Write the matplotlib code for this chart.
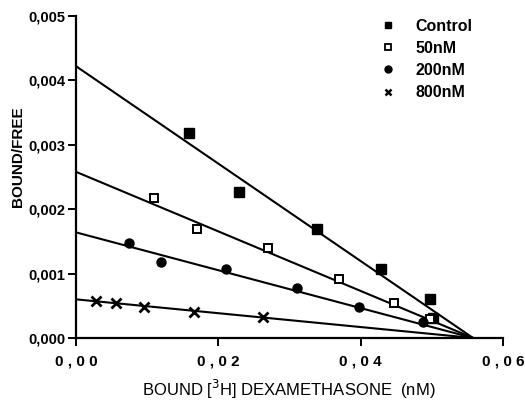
import numpy as np
import matplotlib
matplotlib.use("Agg")
import matplotlib.pyplot as plt
from matplotlib.lines import Line2D

# Scatchard plot data
labels = ["Control", "50nM", "200nM", "800nM"]

control_x = [0.0159, 0.0229, 0.0339, 0.0429, 0.0497, 0.0502]
control_y = [0.00319, 0.00226, 0.00169, 0.00107, 0.00060, 0.00031]

nm50_x = [0.0109, 0.0170, 0.0270, 0.0370, 0.0447, 0.0497]
nm50_y = [0.00217, 0.00169, 0.00140, 0.00092, 0.00054, 0.00030]

nm200_x = [0.0075, 0.0120, 0.0211, 0.0310, 0.0398, 0.0487]
nm200_y = [0.00147, 0.00118, 0.00107, 0.00078, 0.00048, 0.00025]

nm800_x = [0.0028, 0.0056, 0.0096, 0.0166, 0.0263]
nm800_y = [0.00057, 0.00054, 0.00048, 0.00040, 0.00032]

# fitted lines: y-intercepts and common x-intercept (Bmax)
fit_intercepts = [0.00422, 0.00258, 0.00164, 0.00060]
fit_bmax = 0.0558

xticks = [0.0, 0.02, 0.04, 0.06]
xticklabels = ["0 , 0 0", "0 , 0 2", "0 , 0 4", "0 , 0 6"]
yticks = [0.0, 0.001, 0.002, 0.003, 0.004, 0.005]
yticklabels = ["0,000", "0,001", "0,002", "0,003", "0,004", "0,005"]

bold = ["Liberation Sans", "DejaVu Sans"]
narrow = ["Liberation Sans Narrow", "Liberation Sans", "DejaVu Sans"]

fig = plt.figure(figsize=(5.25, 4.08), dpi=100)
ax = fig.add_axes([0.145, 0.1716, 0.813, 0.789])

# regression lines
for b in fit_intercepts:
    xs = np.array([0.0, fit_bmax])
    ax.plot(xs, b * (1 - xs / fit_bmax), color="black", lw=1.5, zorder=2)

ms = 6.5
ax.plot(control_x, control_y, "s", color="black", ms=ms, ls="none", zorder=3)
ax.plot(nm50_x, nm50_y, "s", mfc="white", mec="black", mew=1.4, ms=ms - 0.5, ls="none", zorder=3)
ax.plot(nm200_x, nm200_y, "o", color="black", ms=ms, ls="none", zorder=3)
ax.plot(nm800_x, nm800_y, "x", color="black", mew=2.0, ms=ms, ls="none", zorder=3)

ax.set_xlim(0, 0.06)
ax.set_ylim(0, 0.005)
ax.set_xticks(xticks)
ax.set_xticklabels(xticklabels, family=bold, fontsize=11, fontweight="bold")
ax.set_yticks(yticks)
ax.set_yticklabels(yticklabels, family=bold, fontsize=10.5, fontweight="bold")
ax.tick_params(axis="both", direction="out", length=6, width=1.4, color="black")
ax.tick_params(axis="x", pad=6)
ax.tick_params(axis="y", pad=2)

for side in ["top", "right"]:
    ax.spines[side].set_visible(False)
for side in ["left", "bottom"]:
    ax.spines[side].set_linewidth(1.6)

# legend
handles = [
    Line2D([], [], marker="s", color="black", ls="none", ms=5),
    Line2D([], [], marker="s", mfc="white", mec="black", mew=1.3, ls="none", ms=4.5),
    Line2D([], [], marker="o", color="black", ls="none", ms=5),
    Line2D([], [], marker="x", color="black", mew=1.8, ls="none", ms=5),
]
leg = ax.legend(handles, labels, loc="upper left", bbox_to_anchor=(0.697, 1.012),
                frameon=False, handlelength=1.0, handletextpad=1.2,
                labelspacing=0.45, borderaxespad=0.0,
                prop={"family": bold, "weight": "bold", "size": 11.5})

fig.text(0.034, 0.617, "BOUND/FREE", rotation=90, ha="center", va="center",
         family=narrow, fontweight="bold", fontsize=11)
fig.text(0.55, 0.045, "BOUND [$^{3}$H] DEXAMETHASONE  (nM)", ha="center", va="center",
         family=narrow, fontsize=12)

fig.savefig("out.png", dpi=100)
